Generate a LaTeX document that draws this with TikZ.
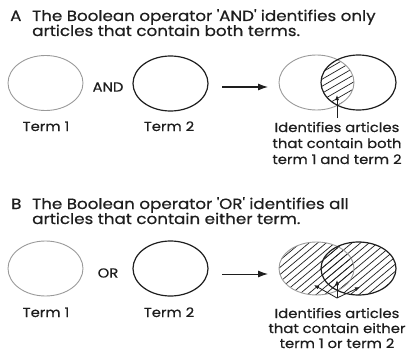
\documentclass[tikz,border=0pt]{standalone}
\usepackage{fontspec}
\setmainfont{Poppins}[FakeBold=0.5,FakeStretch=1.13]
\usetikzlibrary{shapes.geometric,arrows.meta}
\definecolor{ink}{HTML}{1E1E1E}
\definecolor{pale}{HTML}{9A9A9A}
\newcommand{\sq}{\textquotesingle}
\begin{document}
\begin{tikzpicture}[x=1pt,y=-1pt,
  head/.style={font=\fontsize{14.8}{16}\selectfont, text=ink, inner sep=0pt, anchor=base west},
  lab/.style={font=\fontsize{13.1}{15}\selectfont, text=ink, inner sep=0pt},
  lighter/.style={ellipse, draw=pale, line width=0.9pt, minimum width=75pt, minimum height=55pt, inner sep=0pt},
  darker/.style={ellipse, draw=ink, line width=1.2pt, minimum width=75pt, minimum height=55pt, inner sep=0pt},
  hatch/.style={draw=ink, line width=0.7pt},
  flow/.style={draw=ink, line width=1pt, -{Latex[length=10pt,width=7pt]}},
  pointer/.style={draw=ink, line width=0.8pt, -{Latex[length=5pt,width=4pt]}}
]
\useasboundingbox (0,0) rectangle (407,353);

% ---------- Part A: AND ----------
\node[head] (ha) at (10,21) {A};
\node[head] (ta1) at (32,21) {The Boolean operator \sq AND\sq\ identifies only};
\node[head] (ta2) at (32,36) {articles that contain both terms.};

\node[lighter] (a1) at (45.5,83) {};
\node[darker]  (a2) at (170.5,83.5) {};
\node[lab] (andop) at (108,87) {AND};
\node[lab, anchor=base] (la1) at (46,131) {Term 1};
\node[lab, anchor=base] (la2) at (169,131) {Term 2};

% intersection hatching
\begin{scope}
  \clip (316.5,82.5) ellipse [x radius=37.5, y radius=27.5];
  \clip (358.5,82.5) ellipse [x radius=37.5, y radius=27.5];
  \foreach \k in {-14,...,14}
    \draw[hatch] (280,82.5+\k*7) -- ++(120,-69.3);
\end{scope}
\node[lighter] (av1) at (316.5,82.5) {};
\node[darker]  (av2) at (358.5,82.5) {};

\coordinate (aarrs) at (222,87);
\coordinate (aarre) at (268,87);
\draw[flow] (aarrs) -- (aarre);

\coordinate (ptA) at (337,118);
\coordinate (ptAend) at (337,95);
\draw[pointer] (ptA) -- (ptAend);

\node[lab, anchor=base] (da1) at (337,132) {Identifies articles};
\node[lab, anchor=base] (da2) at (337,148) {that contain both};
\node[lab, anchor=base] (da3) at (337,164) {term 1 and term 2};

% ---------- Part B: OR ----------
\node[head] (hb) at (11,209) {B};
\node[head] (tb1) at (32,209) {The Boolean operator \sq OR\sq\ identifies all};
\node[head] (tb2) at (32,224) {articles that contain either term.};

\node[lighter] (b1) at (45.5,268.5) {};
\node[darker]  (b2) at (170.5,268.5) {};
\node[lab] (orop) at (108,273) {OR};
\node[lab, anchor=base] (lb1) at (46,317) {Term 1};
\node[lab, anchor=base] (lb2) at (169,317) {Term 2};

% union hatching
\foreach \cx in {316.5,358.5}{
  \begin{scope}
    \clip (\cx,268.5) ellipse [x radius=37.5, y radius=26.5];
    \foreach \k in {-22,...,22}
      \draw[hatch] (270,268.5+\k*7.2) -- ++(140,-117.5);
  \end{scope}
}
\node[lighter, minimum height=53pt] (bv1) at (316.5,268.5) {};
\node[darker, minimum height=53pt]  (bv2) at (358.5,268.5) {};

\coordinate (barrs) at (222,274);
\coordinate (barre) at (268,274);
\draw[flow] (barrs) -- (barre);

\coordinate (ptB) at (337,298);
\coordinate (ptBl) at (314,285);
\coordinate (ptBm) at (337,280);
\coordinate (ptBr) at (360,287);
\draw[pointer] (ptB) -- (ptBl);
\draw[pointer] (ptB) -- (ptBm);
\draw[pointer] (ptB) -- (ptBr);

\node[lab, anchor=base] (db1) at (337,318) {Identifies articles};
\node[lab, anchor=base] (db2) at (337,333) {that contain either};
\node[lab, anchor=base] (db3) at (337,348) {term 1 or term 2};
\end{tikzpicture}
\end{document}
